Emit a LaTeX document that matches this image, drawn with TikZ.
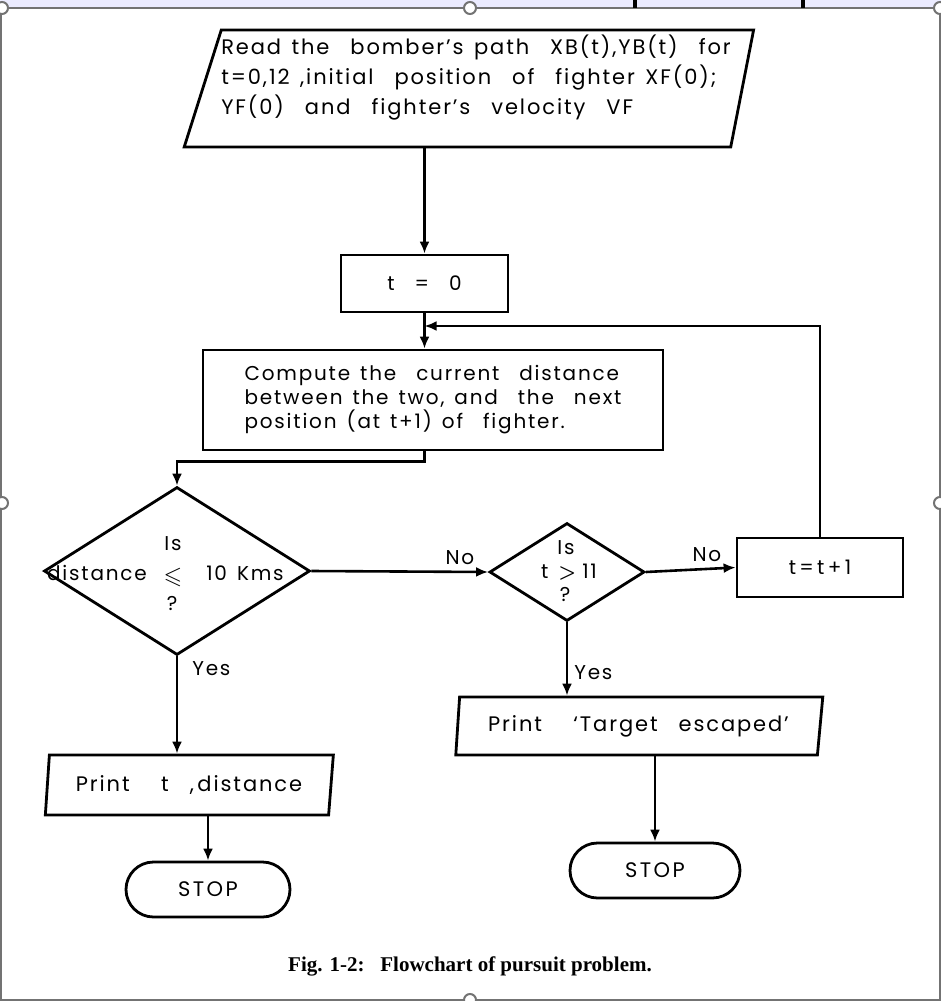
\documentclass[tikz,border=0pt]{standalone}
\usepackage{amsmath}
\usepackage{amssymb}
\usepackage{fontspec}
\setmainfont{Poppins}[LetterSpace=9,WordSpace=1.4]
\newfontfamily\capfont{Liberation Serif}
\usetikzlibrary{shapes.geometric,shapes.misc,arrows.meta}

\begin{document}
\begin{tikzpicture}[x=0.5pt,y=-0.5pt]
\tikzstyle{every node}+=[inner sep=0pt]
\tikzstyle{box}=[draw, line width=1.4pt, rectangle]
\tikzstyle{io}=[draw, line width=1.4pt, trapezium, trapezium stretches body]
\tikzstyle{dec}=[draw, line width=1.4pt, diamond]
\tikzstyle{term}=[draw, line width=1.4pt, rounded rectangle]
\tikzstyle{txt}=[font=\fontsize{10}{12}\selectfont]
\tikzstyle{arr}=[line width=1.3pt, -{Latex[length=6pt,width=5pt]}]
\useasboundingbox (0,0) rectangle (941,1001);
% window frame of the screenshot
\fill [blue!8] (0,0) rectangle (941,8);
\draw [gray!90!black, line width=1pt] (0,8) -- (941,8);
\draw [gray!90!black, line width=1pt] (1,8) -- (1,1001) (940,8) -- (940,1001) (0,1000) -- (941,1000);
\fill [black] (633,0) rectangle (637,8);
\fill [black] (801,0) rectangle (805,8);
\foreach \hx/\hy in {2/8, 470/8, 940/8, 2/503, 940/503, 470/1000}
  \draw [gray!90!black, line width=1pt, fill=white] (\hx,\hy) circle (6);

% boxes
\node [io, trapezium left angle=71, trapezium right angle=102, minimum width=283.5pt, minimum height=58.5pt,
  align=left, text depth=14pt, font=\fontsize{10.5}{15}\selectfont] (read) at (476,88.5)
  {Read the\ \ bomber's path\ \ XB(t),YB(t)\ \ for\\
   t=0,12\ ,initial\ \ position\ \ of\ \ fighter XF(0);\\
   YF(0)\ \ and\ \ fighter's\ \ velocity\ \ VF};
\node [box, minimum width=83.5pt, minimum height=28.5pt, txt] (t0) at (424.5,283.5) {t\ \ =\ \ 0};
\node [box, minimum width=230pt, minimum height=50pt, align=left, font=\fontsize{10}{12}\selectfont] (comp) at (433,400)
  {Compute\ the\ \ current\ \ distance\\
   between\ the\ two,\ and\ \ the\ \ next\\
   position (at t+1)\ of\ \ fighter.};
\node [dec, minimum width=133pt, minimum height=84pt] (d1) at (177,571) {};
\node [txt] (d1is) at (173,544) {Is};
\node [txt] (d1dist) at (97,573) {distance};
\node [txt] (d1le) at (173,577) {\large$\boldsymbol{\leqslant}$};
\node [txt] (d1kms) at (245,573) {10 Kms};
\node [txt] (d1q) at (172,603) {?};
\node [dec, minimum width=77.5pt, minimum height=49pt] (d2) at (567,572) {};
\node [txt] (d2is) at (566,548) {Is};
\node [txt] (d2gt) at (569,572) {t\hspace{5pt}$\boldsymbol{>}$\hspace{3pt}11};
\node [txt] (d2q) at (565,594) {?};
\node [box, minimum width=83pt, minimum height=29.5pt, txt] (inc) at (820,567.5) {t\,=\,t\,+\,1};
\node [io, trapezium left angle=78, trapezium right angle=104, minimum width=144pt, minimum height=30pt,
  font=\fontsize{10.5}{13}\selectfont] (p1) at (189,785) {Print\ \ \ t\ \ ,\,distance};
\node [term, minimum width=82pt, minimum height=27.5pt, font=\fontsize{10.5}{13}\selectfont] (stop1) at (208,889.5) {S\kern1.2pt T\kern1.2pt O\kern1.2pt P};
\node [io, trapezium left angle=80, trapezium right angle=104, minimum width=183.5pt, minimum height=29pt,
  font=\fontsize{10.5}{13}\selectfont] (p2) at (638.5,726) {Print\ \ \ `Target\ \ escaped'};
\node [term, minimum width=85pt, minimum height=27.5pt, font=\fontsize{10.5}{13}\selectfont] (stop2) at (655,870.5) {S\kern1.2pt T\kern1.2pt O\kern1.2pt P};
\node [font=\capfont\bfseries\fontsize{10.5}{12}\selectfont] (cap) at (470,966) {Fig. 1-2:\ \ \ Flowchart of pursuit problem.};

% connectors
\coordinate (merge) at (424.5,326);
\draw [arr] (t0.north |- read.south) -- (t0.north);
\draw [arr] (t0.south) -- (t0.south |- comp.north);
\draw [arr] (inc.north) |- (merge);
\draw [arr] (comp.south -| t0.south) -- ++(0,10) -| (d1.north);
\draw [arr] (d1.east) -- node [pos=0.84, above=3pt, txt] {No} (d2.west);
\draw [arr] (d2.east) -- node [pos=0.68, above=3pt, txt] {No} (inc.west);
\draw [arr] (d1.south) -- node [pos=0.13, right=7pt, txt] {Yes} (d1.south |- p1.north);
\draw [arr] (stop1.north |- p1.south) -- (stop1.north);
\draw [arr] (d2.south) -- node [pos=0.68, right=3pt, txt] {Yes} (d2.south |- p2.north);
\draw [arr] (stop2.north |- p2.south) -- (stop2.north);
\end{tikzpicture}
\end{document}
